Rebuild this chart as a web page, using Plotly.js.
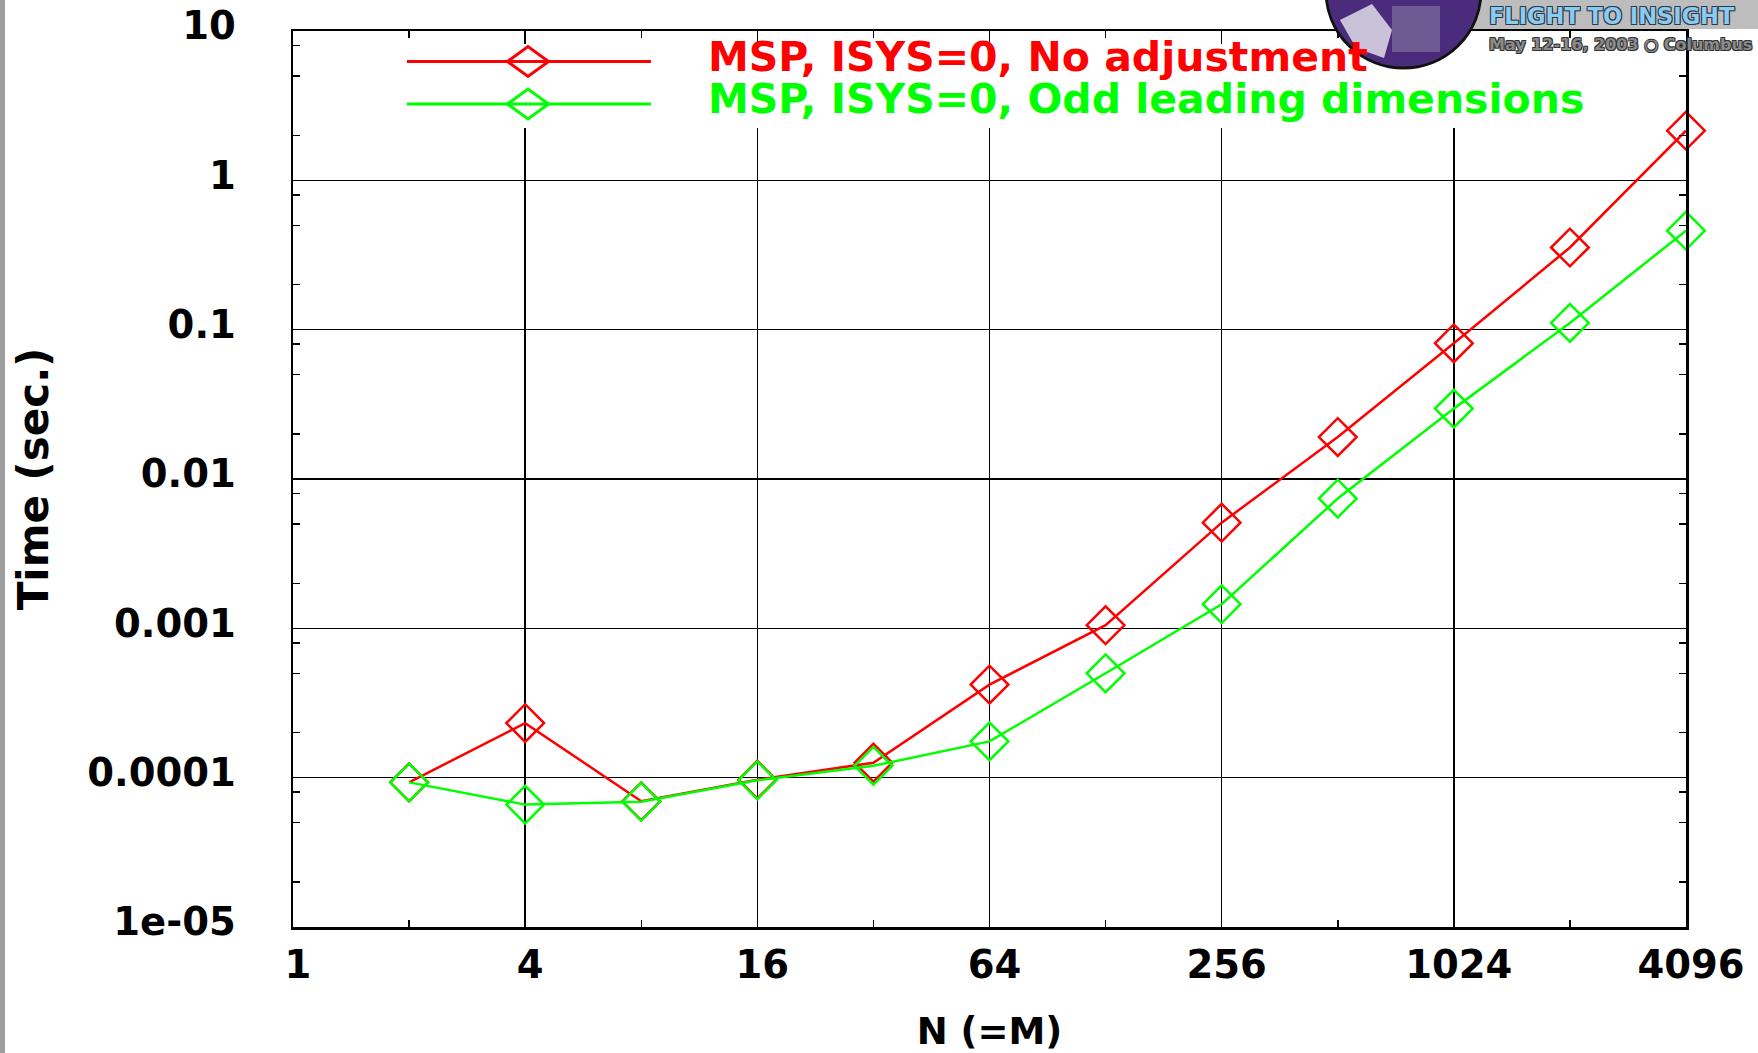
<!DOCTYPE html>
<html><head><meta charset="utf-8">
<script src="https://cdn.plot.ly/plotly-3.0.1.min.js"></script>
<style>html,body{margin:0;padding:0;background:#fff;} #chart{width:1758px;height:1053px;}</style>
</head><body><div id="chart"></div>
<script>
// ---- data ----
const N = [2, 4, 8, 16, 32, 64, 128, 256, 512, 1024, 2048, 4096];
const timeNoAdjust = [9.3e-5, 2.32e-4, 6.95e-5, 9.7e-5, 1.26e-4, 4.2e-4, 1.05e-3, 5.1e-3, 0.0191, 0.081, 0.355, 2.15];
const timeOddLead  = [9.3e-5, 6.6e-5, 6.9e-5, 9.6e-5, 1.2e-4, 1.75e-4, 5.0e-4, 1.45e-3, 7.4e-3, 0.0296, 0.111, 0.46];
const seriesNames = ['MSP, ISYS=0, No adjustment', 'MSP, ISYS=0, Odd leading dimensions'];
const seriesColors = ['#ff0000', '#00ff00'];
const xTickVals = [1, 4, 16, 64, 256, 1024, 4096];
const xTickText = ['1', '4', '16', '64', '256', '1024', '4096'];
const xMinorVals = [2, 8, 32, 128, 512, 2048];
const yTickVals = [10, 1, 0.1, 0.01, 0.001, 0.0001, 0.00001];
const yTickText = ['10', '1', '0.1', '0.01', '0.001', '0.0001', '1e-05'];
const xTitle = 'N (=M)';
const yTitle = 'Time (sec.)';
const bannerTitle = 'FLIGHT TO INSIGHT';
const bannerDate = 'May 12-16, 2003 \u25CB Columbus';

// ---- geometry ----
const W = 1758, H = 1053;
const M = {l: 293, r: 72, t: 31, b: 126, pad: 0};
const PW = W - M.l - M.r, PH = H - M.t - M.b;
const px = x => (x - M.l) / PW;
const py = y => (H - M.b - y) / PH;

const yMinor = [];
for (let e = -5; e <= 0; e++) { [2, 5, 8].forEach(m => yMinor.push(m * Math.pow(10, e))); }

const FONT = 'DejaVu Sans, Arial, sans-serif';

const traces = [timeNoAdjust, timeOddLead].map((ys, i) => ({
  type: 'scatter', mode: 'lines+markers', x: N, y: ys, name: seriesNames[i],
  line: {color: seriesColors[i], width: 2.5},
  marker: {symbol: 'diamond-open', size: 29, color: seriesColors[i], line: {color: seriesColors[i], width: 2.5}},
  cliponaxis: false, showlegend: false
}));

// ---- custom legend (long line sample + wide diamond) ----
const shapes = [];
const annotations = [];
shapes.push({type: 'rect', xref: 'paper', yref: 'paper', x0: px(400), x1: px(1610), y0: py(128), y1: py(44),
  fillcolor: '#ffffff', line: {width: 0}, layer: 'above'});
const rowsY = [61.5, 104];
const textY = [57, 99];
seriesNames.forEach((nm, i) => {
  const cy = rowsY[i], cx = 528;
  shapes.push({type: 'line', xref: 'paper', yref: 'paper', x0: px(407), x1: px(651), y0: py(cy), y1: py(cy),
    line: {color: seriesColors[i], width: 3}, layer: 'above'});
  shapes.push({type: 'path', xref: 'paper', yref: 'paper', layer: 'above',
    path: `M ${px(cx - 20.5)},${py(cy)} L ${px(cx)},${py(cy - 15)} L ${px(cx + 20.5)},${py(cy)} L ${px(cx)},${py(cy + 15)} Z`,
    line: {color: seriesColors[i], width: 3}});
  annotations.push({xref: 'paper', yref: 'paper', x: px(706), y: py(textY[i]), xanchor: 'left', yanchor: 'middle',
    text: nm, showarrow: false, font: {family: FONT, size: 41, color: seriesColors[i], weight: 'bold'}});
});

// ---- page decorations (left strip, conference banner) ----
shapes.push({type: 'rect', xref: 'paper', yref: 'paper', x0: px(0), x1: px(5), y0: py(H), y1: py(0),
  fillcolor: '#9e9e9e', line: {width: 0}, layer: 'above'});
shapes.push({type: 'rect', xref: 'paper', yref: 'paper', x0: px(1470), x1: px(W), y0: py(29), y1: py(0),
  fillcolor: '#bdbdbd', line: {width: 0}, layer: 'above'});
shapes.push({type: 'circle', xref: 'paper', yref: 'paper', x0: px(1326), x1: px(1481), y0: py(68), y1: py(-86),
  fillcolor: '#4b2c7c', line: {color: '#111111', width: 3}, layer: 'above'});
shapes.push({type: 'rect', xref: 'paper', yref: 'paper', x0: px(1392), x1: px(1440), y0: py(52), y1: py(6),
  fillcolor: '#6e5b94', line: {width: 0}, layer: 'above'});
shapes.push({type: 'path', xref: 'paper', yref: 'paper', layer: 'above',
  path: `M ${px(1340)},${py(20)} L ${px(1372)},${py(4)} L ${px(1392)},${py(30)} L ${px(1384)},${py(58)} L ${px(1356)},${py(48)} Z`,
  fillcolor: '#c9c2d8', line: {width: 0}});
annotations.push({xref: 'paper', yref: 'paper', x: px(1487), y: py(16), xanchor: 'left', yanchor: 'middle',
  text: bannerTitle, showarrow: false,
  font: {family: FONT, size: 22.5, color: '#8ccbef', weight: 'bold',
    shadow: '-1px -1px 0 #2a3a4a, 1px -1px 0 #2a3a4a, -1px 1px 0 #2a3a4a, 1px 1px 0 #2a3a4a'}});
annotations.push({xref: 'paper', yref: 'paper', x: px(1487), y: py(44), xanchor: 'left', yanchor: 'middle',
  text: bannerDate, showarrow: false,
  font: {family: FONT, size: 16, color: '#8a8a8a', weight: 'bold',
    shadow: '-1px -1px 0 #333, 1px -1px 0 #333, -1px 1px 0 #333, 1px 1px 0 #333'}});

const tickFont = {family: FONT, size: 38.5, color: '#000', weight: 'bold'};
const layout = {
  width: W, height: H, margin: M, paper_bgcolor: '#fff', plot_bgcolor: '#fff',
  showlegend: false,
  xaxis: {
    type: 'log', range: [0, Math.log10(4096)], autorange: false,
    tickmode: 'array', tickvals: xTickVals, ticktext: xTickText, tickfont: tickFont,
    ticks: 'inside', ticklen: 12, tickwidth: 1.5, tickcolor: '#000',
    ticklabelstandoff: 2, ticklabelshift: 5,
    showgrid: true, gridcolor: '#000', gridwidth: 1.6,
    showline: true, linecolor: '#000', linewidth: 2.5, mirror: 'ticks', zeroline: false,
    minor: {tickmode: 'array', tickvals: xMinorVals, ticks: 'inside', ticklen: 7, tickwidth: 1.5, tickcolor: '#000', showgrid: false},
    title: {text: xTitle, font: {family: FONT, size: 37, color: '#000', weight: 'bold'}, standoff: 38}
  },
  yaxis: {
    type: 'log', range: [-5, 1], autorange: false,
    tickmode: 'array', tickvals: yTickVals, ticktext: yTickText, tickfont: tickFont,
    ticks: 'inside', ticklen: 12, tickwidth: 1.5, tickcolor: '#000',
    ticklabelstandoff: 47, ticklabelshift: -5,
    showgrid: true, gridcolor: '#000', gridwidth: 1.6,
    showline: true, linecolor: '#000', linewidth: 2.5, mirror: 'ticks', zeroline: false,
    minor: {tickmode: 'array', tickvals: yMinor, ticks: 'inside', ticklen: 7, tickwidth: 1.5, tickcolor: '#000', showgrid: false},
    title: {text: yTitle, font: {family: FONT, size: 42, color: '#000', weight: 'bold'}, standoff: 26}
  },
  shapes: shapes, annotations: annotations
};
Plotly.newPlot('chart', traces, layout, {staticPlot: true, displayModeBar: false});
</script></body></html>
